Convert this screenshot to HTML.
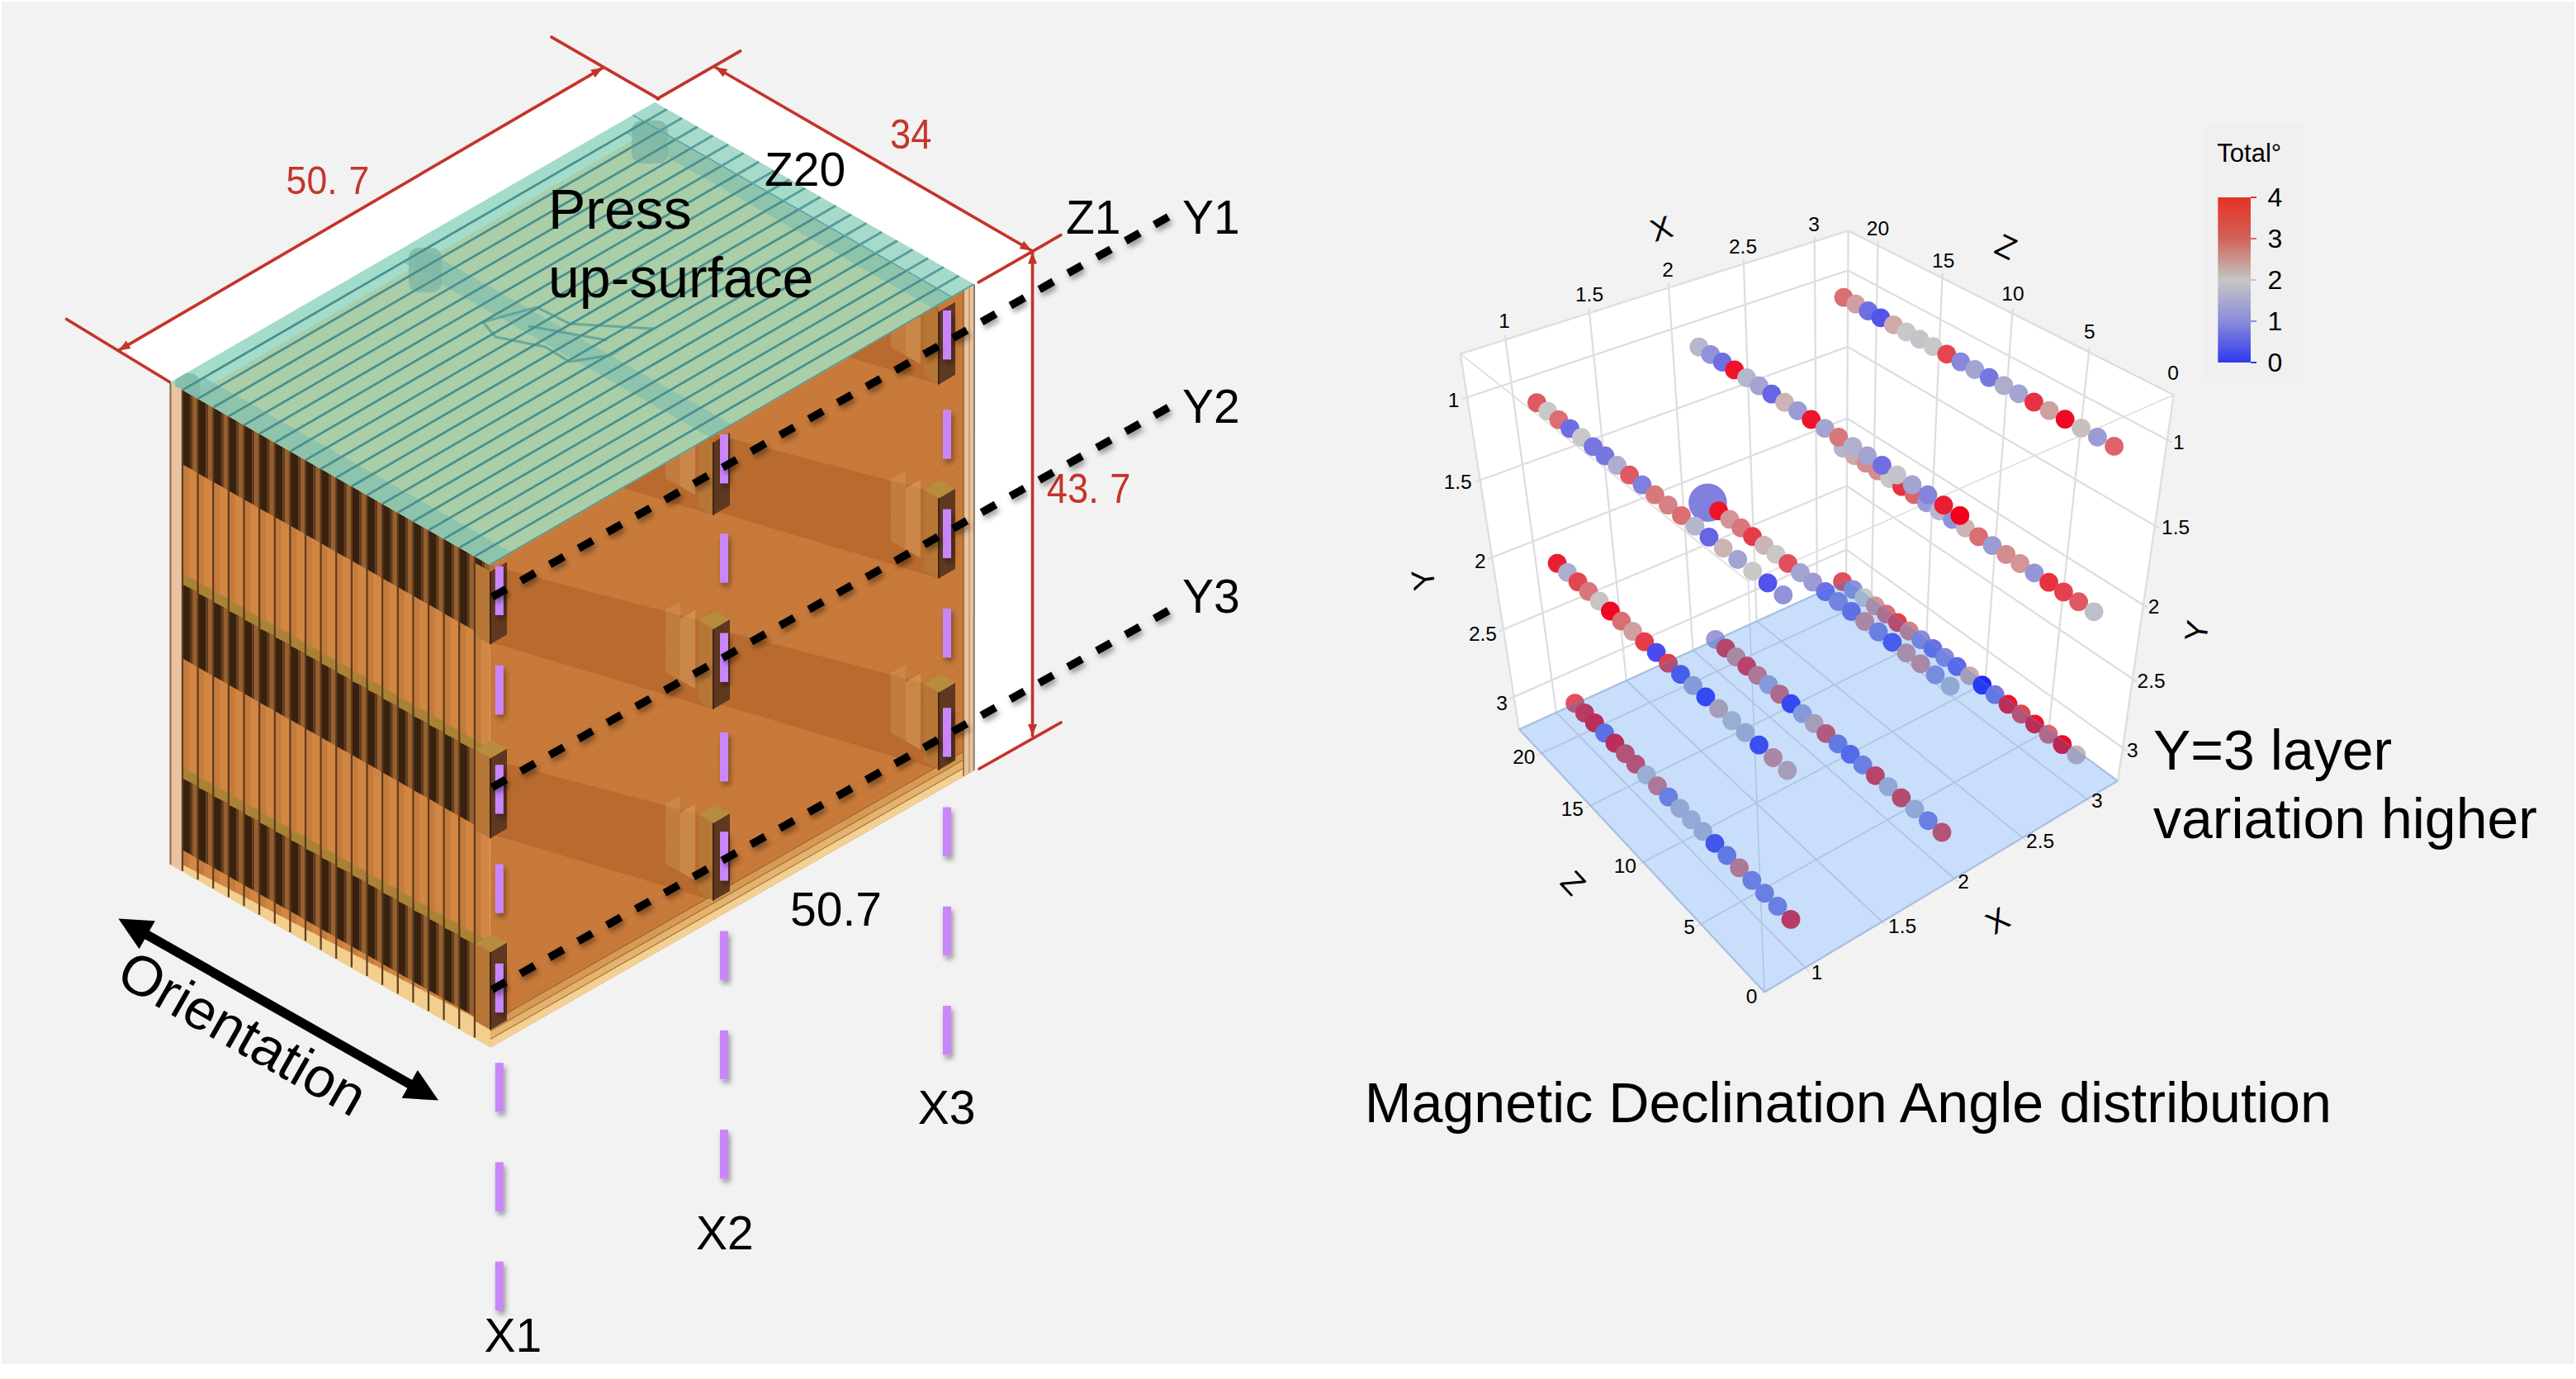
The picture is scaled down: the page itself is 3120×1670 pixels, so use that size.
<!DOCTYPE html>
<html><head><meta charset="utf-8"><title>Magnetic Declination Angle distribution</title>
<style>
html,body{margin:0;padding:0;background:#fff;}
body{width:3120px;height:1670px;overflow:hidden;}
svg{display:block;font-family:'Liberation Sans', Arial, Helvetica, sans-serif;}
</style></head><body>
<svg width="3120" height="1670" viewBox="0 0 3120 1670">
<rect x="0" y="0" width="3120" height="1670" fill="#ffffff"/>
<rect x="2" y="2" width="3116" height="1650" fill="#f2f2f2"/>
<polygon points="143.6,424.4 730.1,82.1 796.8,119.2 793.3,124.0 205.5,463.5" fill="#ffffff" />
<polygon points="866.4,81.5 1249.5,303.5 1250.5,304.0 1250.5,893.0 1179.7,933.0 1180.0,344.5 793.3,124.0 796.8,119.2" fill="#ffffff" />
<g>
<polygon points="205.5,463.5 593.5,684.5 594.0,1268.4 205.8,1047.0" fill="#f2cf8e" />
<polygon points="205.5,463.5 221.0,472.3 221.0,1054.7 205.5,1047.0" fill="#e9c3a2" />
<line x1="206.5" y1="463.5" x2="206.5" y2="1047.0" stroke="#8a6a55" stroke-width="2.00" />
<polygon points="221.0,472.3 239.6,482.9 239.6,1056.7 221.0,1047.0" fill="#d28644" />
<polygon points="221.0,472.3 228.8,476.8 228.8,1051.1 221.0,1047.0" fill="#c57b3c" />
<polygon points="221.0,472.3 230.7,477.8 230.7,567.8 221.0,562.3" fill="#38210f" />
<polygon points="230.7,477.8 233.7,479.5 233.7,569.5 230.7,567.8" fill="#5e3c1e" />
<polygon points="233.7,479.5 239.6,482.9 239.6,572.9 233.7,569.5" fill="#96602e" />
<polygon points="221.0,698.3 230.7,703.8 230.7,802.8 221.0,797.3" fill="#38210f" />
<polygon points="230.7,703.8 233.7,705.5 233.7,804.5 230.7,802.8" fill="#5e3c1e" />
<polygon points="233.7,705.5 239.6,708.9 239.6,807.9 233.7,804.5" fill="#96602e" />
<polygon points="222.0,695.3 239.6,703.9 239.6,716.9 222.0,708.3" fill="#a98236" />
<polygon points="221.0,933.3 230.7,938.8 230.7,1034.8 221.0,1029.3" fill="#38210f" />
<polygon points="230.7,938.8 233.7,940.5 233.7,1036.5 230.7,1034.8" fill="#5e3c1e" />
<polygon points="233.7,940.5 239.6,943.9 239.6,1039.9 233.7,1036.5" fill="#96602e" />
<polygon points="222.0,930.3 239.6,938.9 239.6,951.9 222.0,943.3" fill="#a98236" />
<line x1="221.0" y1="472.3" x2="221.0" y2="1054.7" stroke="#5e3c1e" stroke-width="2.20" />
<polygon points="239.6,482.9 258.2,493.5 258.2,1066.5 239.6,1056.7" fill="#d28644" />
<polygon points="239.6,482.9 247.4,487.4 247.4,1060.8 239.6,1056.7" fill="#c57b3c" />
<polygon points="239.6,482.9 249.3,488.5 249.3,578.5 239.6,572.9" fill="#38210f" />
<polygon points="249.3,488.5 252.3,490.2 252.3,580.2 249.3,578.5" fill="#5e3c1e" />
<polygon points="252.3,490.2 258.2,493.5 258.2,583.5 252.3,580.2" fill="#96602e" />
<polygon points="239.6,708.9 249.3,714.5 249.3,813.5 239.6,807.9" fill="#38210f" />
<polygon points="249.3,714.5 252.3,716.2 252.3,815.2 249.3,813.5" fill="#5e3c1e" />
<polygon points="252.3,716.2 258.2,719.5 258.2,818.5 252.3,815.2" fill="#96602e" />
<polygon points="240.6,705.9 258.2,714.5 258.2,727.5 240.6,718.9" fill="#a98236" />
<polygon points="239.6,943.9 249.3,949.5 249.3,1045.5 239.6,1039.9" fill="#38210f" />
<polygon points="249.3,949.5 252.3,951.2 252.3,1047.2 249.3,1045.5" fill="#5e3c1e" />
<polygon points="252.3,951.2 258.2,954.5 258.2,1050.5 252.3,1047.2" fill="#96602e" />
<polygon points="240.6,940.9 258.2,949.5 258.2,962.5 240.6,953.9" fill="#a98236" />
<line x1="239.6" y1="482.9" x2="239.6" y2="1065.3" stroke="#5e3c1e" stroke-width="2.20" />
<polygon points="258.2,493.5 276.9,504.2 276.9,1076.2 258.2,1066.5" fill="#d28644" />
<polygon points="258.2,493.5 266.1,498.0 266.1,1070.6 258.2,1066.5" fill="#c57b3c" />
<polygon points="258.2,493.5 267.9,499.1 267.9,589.1 258.2,583.5" fill="#38210f" />
<polygon points="267.9,499.1 270.9,500.8 270.9,590.8 267.9,589.1" fill="#5e3c1e" />
<polygon points="270.9,500.8 276.9,504.2 276.9,594.2 270.9,590.8" fill="#96602e" />
<polygon points="258.2,719.5 267.9,725.1 267.9,824.1 258.2,818.5" fill="#38210f" />
<polygon points="267.9,725.1 270.9,726.8 270.9,825.8 267.9,824.1" fill="#5e3c1e" />
<polygon points="270.9,726.8 276.9,730.2 276.9,829.2 270.9,825.8" fill="#96602e" />
<polygon points="259.2,716.5 276.9,725.2 276.9,738.2 259.2,729.5" fill="#a98236" />
<polygon points="258.2,954.5 267.9,960.1 267.9,1056.1 258.2,1050.5" fill="#38210f" />
<polygon points="267.9,960.1 270.9,961.8 270.9,1057.8 267.9,1056.1" fill="#5e3c1e" />
<polygon points="270.9,961.8 276.9,965.2 276.9,1061.2 270.9,1057.8" fill="#96602e" />
<polygon points="259.2,951.5 276.9,960.2 276.9,973.2 259.2,964.5" fill="#a98236" />
<line x1="258.2" y1="493.5" x2="258.2" y2="1075.9" stroke="#5e3c1e" stroke-width="2.20" />
<polygon points="276.9,504.2 295.5,514.8 295.5,1086.0 276.9,1076.2" fill="#d28644" />
<polygon points="276.9,504.2 284.7,508.6 284.7,1080.3 276.9,1076.2" fill="#c57b3c" />
<polygon points="276.9,504.2 286.6,509.7 286.6,599.7 276.9,594.2" fill="#38210f" />
<polygon points="286.6,509.7 289.5,511.4 289.5,601.4 286.6,599.7" fill="#5e3c1e" />
<polygon points="289.5,511.4 295.5,514.8 295.5,604.8 289.5,601.4" fill="#96602e" />
<polygon points="276.9,730.2 286.6,735.7 286.6,834.7 276.9,829.2" fill="#38210f" />
<polygon points="286.6,735.7 289.5,737.4 289.5,836.4 286.6,834.7" fill="#5e3c1e" />
<polygon points="289.5,737.4 295.5,740.8 295.5,839.8 289.5,836.4" fill="#96602e" />
<polygon points="277.9,727.2 295.5,735.8 295.5,748.8 277.9,740.2" fill="#a98236" />
<polygon points="276.9,965.2 286.6,970.7 286.6,1066.7 276.9,1061.2" fill="#38210f" />
<polygon points="286.6,970.7 289.5,972.4 289.5,1068.4 286.6,1066.7" fill="#5e3c1e" />
<polygon points="289.5,972.4 295.5,975.8 295.5,1071.8 289.5,1068.4" fill="#96602e" />
<polygon points="277.9,962.2 295.5,970.8 295.5,983.8 277.9,975.2" fill="#a98236" />
<line x1="276.9" y1="504.2" x2="276.9" y2="1086.5" stroke="#5e3c1e" stroke-width="2.20" />
<polygon points="295.5,514.8 314.1,525.4 314.1,1095.8 295.5,1086.0" fill="#d28644" />
<polygon points="295.5,514.8 303.3,519.2 303.3,1090.1 295.5,1086.0" fill="#c57b3c" />
<polygon points="295.5,514.8 305.2,520.3 305.2,610.3 295.5,604.8" fill="#38210f" />
<polygon points="305.2,520.3 308.2,522.0 308.2,612.0 305.2,610.3" fill="#5e3c1e" />
<polygon points="308.2,522.0 314.1,525.4 314.1,615.4 308.2,612.0" fill="#96602e" />
<polygon points="295.5,740.8 305.2,746.3 305.2,845.3 295.5,839.8" fill="#38210f" />
<polygon points="305.2,746.3 308.2,748.0 308.2,847.0 305.2,845.3" fill="#5e3c1e" />
<polygon points="308.2,748.0 314.1,751.4 314.1,850.4 308.2,847.0" fill="#96602e" />
<polygon points="296.5,737.8 314.1,746.4 314.1,759.4 296.5,750.8" fill="#a98236" />
<polygon points="295.5,975.8 305.2,981.3 305.2,1077.3 295.5,1071.8" fill="#38210f" />
<polygon points="305.2,981.3 308.2,983.0 308.2,1079.0 305.2,1077.3" fill="#5e3c1e" />
<polygon points="308.2,983.0 314.1,986.4 314.1,1082.4 308.2,1079.0" fill="#96602e" />
<polygon points="296.5,972.8 314.1,981.4 314.1,994.4 296.5,985.8" fill="#a98236" />
<line x1="295.5" y1="514.8" x2="295.5" y2="1097.2" stroke="#5e3c1e" stroke-width="2.20" />
<polygon points="314.1,525.4 332.8,536.0 332.8,1105.5 314.1,1095.8" fill="#d28644" />
<polygon points="314.1,525.4 321.9,529.8 321.9,1099.9 314.1,1095.8" fill="#c57b3c" />
<polygon points="314.1,525.4 323.8,530.9 323.8,620.9 314.1,615.4" fill="#38210f" />
<polygon points="323.8,530.9 326.8,532.6 326.8,622.6 323.8,620.9" fill="#5e3c1e" />
<polygon points="326.8,532.6 332.8,536.0 332.8,626.0 326.8,622.6" fill="#96602e" />
<polygon points="314.1,751.4 323.8,756.9 323.8,855.9 314.1,850.4" fill="#38210f" />
<polygon points="323.8,756.9 326.8,758.6 326.8,857.6 323.8,855.9" fill="#5e3c1e" />
<polygon points="326.8,758.6 332.8,762.0 332.8,861.0 326.8,857.6" fill="#96602e" />
<polygon points="315.1,748.4 332.8,757.0 332.8,770.0 315.1,761.4" fill="#a98236" />
<polygon points="314.1,986.4 323.8,991.9 323.8,1087.9 314.1,1082.4" fill="#38210f" />
<polygon points="323.8,991.9 326.8,993.6 326.8,1089.6 323.8,1087.9" fill="#5e3c1e" />
<polygon points="326.8,993.6 332.8,997.0 332.8,1093.0 326.8,1089.6" fill="#96602e" />
<polygon points="315.1,983.4 332.8,992.0 332.8,1005.0 315.1,996.4" fill="#a98236" />
<line x1="314.1" y1="525.4" x2="314.1" y2="1107.8" stroke="#5e3c1e" stroke-width="2.20" />
<polygon points="332.8,536.0 351.4,546.6 351.4,1115.3 332.8,1105.5" fill="#d28644" />
<polygon points="332.8,536.0 340.6,540.4 340.6,1109.6 332.8,1105.5" fill="#c57b3c" />
<polygon points="332.8,536.0 342.4,541.5 342.4,631.5 332.8,626.0" fill="#38210f" />
<polygon points="342.4,541.5 345.4,543.2 345.4,633.2 342.4,631.5" fill="#5e3c1e" />
<polygon points="345.4,543.2 351.4,546.6 351.4,636.6 345.4,633.2" fill="#96602e" />
<polygon points="332.8,762.0 342.4,767.5 342.4,866.5 332.8,861.0" fill="#38210f" />
<polygon points="342.4,767.5 345.4,769.2 345.4,868.2 342.4,866.5" fill="#5e3c1e" />
<polygon points="345.4,769.2 351.4,772.6 351.4,871.6 345.4,868.2" fill="#96602e" />
<polygon points="333.8,759.0 351.4,767.6 351.4,780.6 333.8,772.0" fill="#a98236" />
<polygon points="332.8,997.0 342.4,1002.5 342.4,1098.5 332.8,1093.0" fill="#38210f" />
<polygon points="342.4,1002.5 345.4,1004.2 345.4,1100.2 342.4,1098.5" fill="#5e3c1e" />
<polygon points="345.4,1004.2 351.4,1007.6 351.4,1103.6 345.4,1100.2" fill="#96602e" />
<polygon points="333.8,994.0 351.4,1002.6 351.4,1015.6 333.8,1007.0" fill="#a98236" />
<line x1="332.8" y1="536.0" x2="332.8" y2="1118.4" stroke="#5e3c1e" stroke-width="2.20" />
<polygon points="351.4,546.6 370.0,557.2 370.0,1125.0 351.4,1115.3" fill="#d28644" />
<polygon points="351.4,546.6 359.2,551.0 359.2,1119.4 351.4,1115.3" fill="#c57b3c" />
<polygon points="351.4,546.6 361.1,552.1 361.1,642.1 351.4,636.6" fill="#38210f" />
<polygon points="361.1,552.1 364.0,553.8 364.0,643.8 361.1,642.1" fill="#5e3c1e" />
<polygon points="364.0,553.8 370.0,557.2 370.0,647.2 364.0,643.8" fill="#96602e" />
<polygon points="351.4,772.6 361.1,778.1 361.1,877.1 351.4,871.6" fill="#38210f" />
<polygon points="361.1,778.1 364.0,779.8 364.0,878.8 361.1,877.1" fill="#5e3c1e" />
<polygon points="364.0,779.8 370.0,783.2 370.0,882.2 364.0,878.8" fill="#96602e" />
<polygon points="352.4,769.6 370.0,778.2 370.0,791.2 352.4,782.6" fill="#a98236" />
<polygon points="351.4,1007.6 361.1,1013.1 361.1,1109.1 351.4,1103.6" fill="#38210f" />
<polygon points="361.1,1013.1 364.0,1014.8 364.0,1110.8 361.1,1109.1" fill="#5e3c1e" />
<polygon points="364.0,1014.8 370.0,1018.2 370.0,1114.2 364.0,1110.8" fill="#96602e" />
<polygon points="352.4,1004.6 370.0,1013.2 370.0,1026.2 352.4,1017.6" fill="#a98236" />
<line x1="351.4" y1="546.6" x2="351.4" y2="1129.0" stroke="#5e3c1e" stroke-width="2.20" />
<polygon points="370.0,557.2 388.6,567.8 388.6,1134.8 370.0,1125.0" fill="#d28644" />
<polygon points="370.0,557.2 377.8,561.7 377.8,1129.1 370.0,1125.0" fill="#c57b3c" />
<polygon points="370.0,557.2 379.7,562.7 379.7,652.7 370.0,647.2" fill="#38210f" />
<polygon points="379.7,562.7 382.7,564.4 382.7,654.4 379.7,652.7" fill="#5e3c1e" />
<polygon points="382.7,564.4 388.6,567.8 388.6,657.8 382.7,654.4" fill="#96602e" />
<polygon points="370.0,783.2 379.7,788.7 379.7,887.7 370.0,882.2" fill="#38210f" />
<polygon points="379.7,788.7 382.7,790.4 382.7,889.4 379.7,887.7" fill="#5e3c1e" />
<polygon points="382.7,790.4 388.6,793.8 388.6,892.8 382.7,889.4" fill="#96602e" />
<polygon points="371.0,780.2 388.6,788.8 388.6,801.8 371.0,793.2" fill="#a98236" />
<polygon points="370.0,1018.2 379.7,1023.7 379.7,1119.7 370.0,1114.2" fill="#38210f" />
<polygon points="379.7,1023.7 382.7,1025.4 382.7,1121.4 379.7,1119.7" fill="#5e3c1e" />
<polygon points="382.7,1025.4 388.6,1028.8 388.6,1124.8 382.7,1121.4" fill="#96602e" />
<polygon points="371.0,1015.2 388.6,1023.8 388.6,1036.8 371.0,1028.2" fill="#a98236" />
<line x1="370.0" y1="557.2" x2="370.0" y2="1139.6" stroke="#5e3c1e" stroke-width="2.20" />
<polygon points="388.6,567.8 407.2,578.4 407.2,1144.6 388.6,1134.8" fill="#d28644" />
<polygon points="388.6,567.8 396.4,572.3 396.4,1138.9 388.6,1134.8" fill="#c57b3c" />
<polygon points="388.6,567.8 398.3,573.3 398.3,663.3 388.6,657.8" fill="#38210f" />
<polygon points="398.3,573.3 401.3,575.0 401.3,665.0 398.3,663.3" fill="#5e3c1e" />
<polygon points="401.3,575.0 407.2,578.4 407.2,668.4 401.3,665.0" fill="#96602e" />
<polygon points="388.6,793.8 398.3,799.3 398.3,898.3 388.6,892.8" fill="#38210f" />
<polygon points="398.3,799.3 401.3,801.0 401.3,900.0 398.3,898.3" fill="#5e3c1e" />
<polygon points="401.3,801.0 407.2,804.4 407.2,903.4 401.3,900.0" fill="#96602e" />
<polygon points="389.6,790.8 407.2,799.4 407.2,812.4 389.6,803.8" fill="#a98236" />
<polygon points="388.6,1028.8 398.3,1034.3 398.3,1130.3 388.6,1124.8" fill="#38210f" />
<polygon points="398.3,1034.3 401.3,1036.0 401.3,1132.0 398.3,1130.3" fill="#5e3c1e" />
<polygon points="401.3,1036.0 407.2,1039.4 407.2,1135.4 401.3,1132.0" fill="#96602e" />
<polygon points="389.6,1025.8 407.2,1034.4 407.2,1047.4 389.6,1038.8" fill="#a98236" />
<line x1="388.6" y1="567.8" x2="388.6" y2="1150.3" stroke="#5e3c1e" stroke-width="2.20" />
<polygon points="407.2,578.4 425.9,589.0 425.9,1154.3 407.2,1144.6" fill="#d28644" />
<polygon points="407.2,578.4 415.1,582.9 415.1,1148.7 407.2,1144.6" fill="#c57b3c" />
<polygon points="407.2,578.4 416.9,583.9 416.9,673.9 407.2,668.4" fill="#38210f" />
<polygon points="416.9,583.9 419.9,585.6 419.9,675.6 416.9,673.9" fill="#5e3c1e" />
<polygon points="419.9,585.6 425.9,589.0 425.9,679.0 419.9,675.6" fill="#96602e" />
<polygon points="407.2,804.4 416.9,809.9 416.9,908.9 407.2,903.4" fill="#38210f" />
<polygon points="416.9,809.9 419.9,811.6 419.9,910.6 416.9,908.9" fill="#5e3c1e" />
<polygon points="419.9,811.6 425.9,815.0 425.9,914.0 419.9,910.6" fill="#96602e" />
<polygon points="408.2,801.4 425.9,810.0 425.9,823.0 408.2,814.4" fill="#a98236" />
<polygon points="407.2,1039.4 416.9,1044.9 416.9,1140.9 407.2,1135.4" fill="#38210f" />
<polygon points="416.9,1044.9 419.9,1046.6 419.9,1142.6 416.9,1140.9" fill="#5e3c1e" />
<polygon points="419.9,1046.6 425.9,1050.0 425.9,1146.0 419.9,1142.6" fill="#96602e" />
<polygon points="408.2,1036.4 425.9,1045.0 425.9,1058.0 408.2,1049.4" fill="#a98236" />
<line x1="407.2" y1="578.4" x2="407.2" y2="1160.9" stroke="#5e3c1e" stroke-width="2.20" />
<polygon points="425.9,589.0 444.5,599.6 444.5,1164.1 425.9,1154.3" fill="#d28644" />
<polygon points="425.9,589.0 433.7,593.5 433.7,1158.4 425.9,1154.3" fill="#c57b3c" />
<polygon points="425.9,589.0 435.6,594.5 435.6,684.5 425.9,679.0" fill="#38210f" />
<polygon points="435.6,594.5 438.5,596.2 438.5,686.2 435.6,684.5" fill="#5e3c1e" />
<polygon points="438.5,596.2 444.5,599.6 444.5,689.6 438.5,686.2" fill="#96602e" />
<polygon points="425.9,815.0 435.6,820.5 435.6,919.5 425.9,914.0" fill="#38210f" />
<polygon points="435.6,820.5 438.5,822.2 438.5,921.2 435.6,919.5" fill="#5e3c1e" />
<polygon points="438.5,822.2 444.5,825.6 444.5,924.6 438.5,921.2" fill="#96602e" />
<polygon points="426.9,812.0 444.5,820.6 444.5,833.6 426.9,825.0" fill="#a98236" />
<polygon points="425.9,1050.0 435.6,1055.5 435.6,1151.5 425.9,1146.0" fill="#38210f" />
<polygon points="435.6,1055.5 438.5,1057.2 438.5,1153.2 435.6,1151.5" fill="#5e3c1e" />
<polygon points="438.5,1057.2 444.5,1060.6 444.5,1156.6 438.5,1153.2" fill="#96602e" />
<polygon points="426.9,1047.0 444.5,1055.6 444.5,1068.6 426.9,1060.0" fill="#a98236" />
<line x1="425.9" y1="589.0" x2="425.9" y2="1171.5" stroke="#5e3c1e" stroke-width="2.20" />
<polygon points="444.5,599.6 463.1,610.2 463.1,1173.8 444.5,1164.1" fill="#d28644" />
<polygon points="444.5,599.6 452.3,604.1 452.3,1168.2 444.5,1164.1" fill="#c57b3c" />
<polygon points="444.5,599.6 454.2,605.1 454.2,695.1 444.5,689.6" fill="#38210f" />
<polygon points="454.2,605.1 457.2,606.8 457.2,696.8 454.2,695.1" fill="#5e3c1e" />
<polygon points="457.2,606.8 463.1,610.2 463.1,700.2 457.2,696.8" fill="#96602e" />
<polygon points="444.5,825.6 454.2,831.1 454.2,930.1 444.5,924.6" fill="#38210f" />
<polygon points="454.2,831.1 457.2,832.8 457.2,931.8 454.2,930.1" fill="#5e3c1e" />
<polygon points="457.2,832.8 463.1,836.2 463.1,935.2 457.2,931.8" fill="#96602e" />
<polygon points="445.5,822.6 463.1,831.2 463.1,844.2 445.5,835.6" fill="#a98236" />
<polygon points="444.5,1060.6 454.2,1066.1 454.2,1162.1 444.5,1156.6" fill="#38210f" />
<polygon points="454.2,1066.1 457.2,1067.8 457.2,1163.8 454.2,1162.1" fill="#5e3c1e" />
<polygon points="457.2,1067.8 463.1,1071.2 463.1,1167.2 457.2,1163.8" fill="#96602e" />
<polygon points="445.5,1057.6 463.1,1066.2 463.1,1079.2 445.5,1070.6" fill="#a98236" />
<line x1="444.5" y1="599.6" x2="444.5" y2="1182.1" stroke="#5e3c1e" stroke-width="2.20" />
<polygon points="463.1,610.2 481.8,620.8 481.8,1183.6 463.1,1173.8" fill="#d28644" />
<polygon points="463.1,610.2 470.9,614.7 470.9,1177.9 463.1,1173.8" fill="#c57b3c" />
<polygon points="463.1,610.2 472.8,615.8 472.8,705.8 463.1,700.2" fill="#38210f" />
<polygon points="472.8,615.8 475.8,617.5 475.8,707.5 472.8,705.8" fill="#5e3c1e" />
<polygon points="475.8,617.5 481.8,620.8 481.8,710.8 475.8,707.5" fill="#96602e" />
<polygon points="463.1,836.2 472.8,841.8 472.8,940.8 463.1,935.2" fill="#38210f" />
<polygon points="472.8,841.8 475.8,843.5 475.8,942.5 472.8,940.8" fill="#5e3c1e" />
<polygon points="475.8,843.5 481.8,846.8 481.8,945.8 475.8,942.5" fill="#96602e" />
<polygon points="464.1,833.2 481.8,841.8 481.8,854.8 464.1,846.2" fill="#a98236" />
<polygon points="463.1,1071.2 472.8,1076.8 472.8,1172.8 463.1,1167.2" fill="#38210f" />
<polygon points="472.8,1076.8 475.8,1078.5 475.8,1174.5 472.8,1172.8" fill="#5e3c1e" />
<polygon points="475.8,1078.5 481.8,1081.8 481.8,1177.8 475.8,1174.5" fill="#96602e" />
<polygon points="464.1,1068.2 481.8,1076.8 481.8,1089.8 464.1,1081.2" fill="#a98236" />
<line x1="463.1" y1="610.2" x2="463.1" y2="1192.8" stroke="#5e3c1e" stroke-width="2.20" />
<polygon points="481.8,620.8 500.4,631.5 500.4,1193.3 481.8,1183.6" fill="#d28644" />
<polygon points="481.8,620.8 489.6,625.3 489.6,1187.7 481.8,1183.6" fill="#c57b3c" />
<polygon points="481.8,620.8 491.4,626.4 491.4,716.4 481.8,710.8" fill="#38210f" />
<polygon points="491.4,626.4 494.4,628.1 494.4,718.1 491.4,716.4" fill="#5e3c1e" />
<polygon points="494.4,628.1 500.4,631.5 500.4,721.5 494.4,718.1" fill="#96602e" />
<polygon points="481.8,846.8 491.4,852.4 491.4,951.4 481.8,945.8" fill="#38210f" />
<polygon points="491.4,852.4 494.4,854.1 494.4,953.1 491.4,951.4" fill="#5e3c1e" />
<polygon points="494.4,854.1 500.4,857.5 500.4,956.5 494.4,953.1" fill="#96602e" />
<polygon points="482.8,843.8 500.4,852.5 500.4,865.5 482.8,856.8" fill="#a98236" />
<polygon points="481.8,1081.8 491.4,1087.4 491.4,1183.4 481.8,1177.8" fill="#38210f" />
<polygon points="491.4,1087.4 494.4,1089.1 494.4,1185.1 491.4,1183.4" fill="#5e3c1e" />
<polygon points="494.4,1089.1 500.4,1092.5 500.4,1188.5 494.4,1185.1" fill="#96602e" />
<polygon points="482.8,1078.8 500.4,1087.5 500.4,1100.5 482.8,1091.8" fill="#a98236" />
<line x1="481.8" y1="620.8" x2="481.8" y2="1203.4" stroke="#5e3c1e" stroke-width="2.20" />
<polygon points="500.4,631.5 519.0,642.1 519.0,1203.1 500.4,1193.3" fill="#d28644" />
<polygon points="500.4,631.5 508.2,635.9 508.2,1197.4 500.4,1193.3" fill="#c57b3c" />
<polygon points="500.4,631.5 510.1,637.0 510.1,727.0 500.4,721.5" fill="#38210f" />
<polygon points="510.1,637.0 513.0,638.7 513.0,728.7 510.1,727.0" fill="#5e3c1e" />
<polygon points="513.0,638.7 519.0,642.1 519.0,732.1 513.0,728.7" fill="#96602e" />
<polygon points="500.4,857.5 510.1,863.0 510.1,962.0 500.4,956.5" fill="#38210f" />
<polygon points="510.1,863.0 513.0,864.7 513.0,963.7 510.1,962.0" fill="#5e3c1e" />
<polygon points="513.0,864.7 519.0,868.1 519.0,967.1 513.0,963.7" fill="#96602e" />
<polygon points="501.4,854.5 519.0,863.1 519.0,876.1 501.4,867.5" fill="#a98236" />
<polygon points="500.4,1092.5 510.1,1098.0 510.1,1194.0 500.4,1188.5" fill="#38210f" />
<polygon points="510.1,1098.0 513.0,1099.7 513.0,1195.7 510.1,1194.0" fill="#5e3c1e" />
<polygon points="513.0,1099.7 519.0,1103.1 519.0,1199.1 513.0,1195.7" fill="#96602e" />
<polygon points="501.4,1089.5 519.0,1098.1 519.0,1111.1 501.4,1102.5" fill="#a98236" />
<line x1="500.4" y1="631.5" x2="500.4" y2="1214.0" stroke="#5e3c1e" stroke-width="2.20" />
<polygon points="519.0,642.1 537.6,652.7 537.6,1212.9 519.0,1203.1" fill="#d28644" />
<polygon points="519.0,642.1 526.8,646.5 526.8,1207.2 519.0,1203.1" fill="#c57b3c" />
<polygon points="519.0,642.1 528.7,647.6 528.7,737.6 519.0,732.1" fill="#38210f" />
<polygon points="528.7,647.6 531.7,649.3 531.7,739.3 528.7,737.6" fill="#5e3c1e" />
<polygon points="531.7,649.3 537.6,652.7 537.6,742.7 531.7,739.3" fill="#96602e" />
<polygon points="519.0,868.1 528.7,873.6 528.7,972.6 519.0,967.1" fill="#38210f" />
<polygon points="528.7,873.6 531.7,875.3 531.7,974.3 528.7,972.6" fill="#5e3c1e" />
<polygon points="531.7,875.3 537.6,878.7 537.6,977.7 531.7,974.3" fill="#96602e" />
<polygon points="520.0,865.1 537.6,873.7 537.6,886.7 520.0,878.1" fill="#a98236" />
<polygon points="519.0,1103.1 528.7,1108.6 528.7,1204.6 519.0,1199.1" fill="#38210f" />
<polygon points="528.7,1108.6 531.7,1110.3 531.7,1206.3 528.7,1204.6" fill="#5e3c1e" />
<polygon points="531.7,1110.3 537.6,1113.7 537.6,1209.7 531.7,1206.3" fill="#96602e" />
<polygon points="520.0,1100.1 537.6,1108.7 537.6,1121.7 520.0,1113.1" fill="#a98236" />
<line x1="519.0" y1="642.1" x2="519.0" y2="1224.6" stroke="#5e3c1e" stroke-width="2.20" />
<polygon points="537.6,652.7 556.2,663.3 556.2,1222.6 537.6,1212.9" fill="#d28644" />
<polygon points="537.6,652.7 545.4,657.1 545.4,1217.0 537.6,1212.9" fill="#c57b3c" />
<polygon points="537.6,652.7 547.3,658.2 547.3,748.2 537.6,742.7" fill="#38210f" />
<polygon points="547.3,658.2 550.3,659.9 550.3,749.9 547.3,748.2" fill="#5e3c1e" />
<polygon points="550.3,659.9 556.2,663.3 556.2,753.3 550.3,749.9" fill="#96602e" />
<polygon points="537.6,878.7 547.3,884.2 547.3,983.2 537.6,977.7" fill="#38210f" />
<polygon points="547.3,884.2 550.3,885.9 550.3,984.9 547.3,983.2" fill="#5e3c1e" />
<polygon points="550.3,885.9 556.2,889.3 556.2,988.3 550.3,984.9" fill="#96602e" />
<polygon points="538.6,875.7 556.2,884.3 556.2,897.3 538.6,888.7" fill="#a98236" />
<polygon points="537.6,1113.7 547.3,1119.2 547.3,1215.2 537.6,1209.7" fill="#38210f" />
<polygon points="547.3,1119.2 550.3,1120.9 550.3,1216.9 547.3,1215.2" fill="#5e3c1e" />
<polygon points="550.3,1120.9 556.2,1124.3 556.2,1220.3 550.3,1216.9" fill="#96602e" />
<polygon points="538.6,1110.7 556.2,1119.3 556.2,1132.3 538.6,1123.7" fill="#a98236" />
<line x1="537.6" y1="652.7" x2="537.6" y2="1235.2" stroke="#5e3c1e" stroke-width="2.20" />
<polygon points="556.2,663.3 574.9,673.9 574.9,1232.4 556.2,1222.6" fill="#d28644" />
<polygon points="556.2,663.3 564.1,667.7 564.1,1226.7 556.2,1222.6" fill="#c57b3c" />
<polygon points="556.2,663.3 565.9,668.8 565.9,758.8 556.2,753.3" fill="#38210f" />
<polygon points="565.9,668.8 568.9,670.5 568.9,760.5 565.9,758.8" fill="#5e3c1e" />
<polygon points="568.9,670.5 574.9,673.9 574.9,763.9 568.9,760.5" fill="#96602e" />
<polygon points="556.2,889.3 565.9,894.8 565.9,993.8 556.2,988.3" fill="#38210f" />
<polygon points="565.9,894.8 568.9,896.5 568.9,995.5 565.9,993.8" fill="#5e3c1e" />
<polygon points="568.9,896.5 574.9,899.9 574.9,998.9 568.9,995.5" fill="#96602e" />
<polygon points="557.2,886.3 574.9,894.9 574.9,907.9 557.2,899.3" fill="#a98236" />
<polygon points="556.2,1124.3 565.9,1129.8 565.9,1225.8 556.2,1220.3" fill="#38210f" />
<polygon points="565.9,1129.8 568.9,1131.5 568.9,1227.5 565.9,1225.8" fill="#5e3c1e" />
<polygon points="568.9,1131.5 574.9,1134.9 574.9,1230.9 568.9,1227.5" fill="#96602e" />
<polygon points="557.2,1121.3 574.9,1129.9 574.9,1142.9 557.2,1134.3" fill="#a98236" />
<line x1="556.2" y1="663.3" x2="556.2" y2="1245.9" stroke="#5e3c1e" stroke-width="2.20" />
<polygon points="574.9,673.9 593.5,684.5 593.5,1242.1 574.9,1232.4" fill="#d28644" />
<polygon points="574.9,673.9 582.7,678.3 582.7,1236.5 574.9,1232.4" fill="#c57b3c" />
<polygon points="574.9,673.9 584.6,679.4 584.6,769.4 574.9,763.9" fill="#38210f" />
<polygon points="584.6,679.4 587.5,681.1 587.5,771.1 584.6,769.4" fill="#5e3c1e" />
<polygon points="587.5,681.1 593.5,684.5 593.5,774.5 587.5,771.1" fill="#96602e" />
<polygon points="574.9,899.9 584.6,905.4 584.6,1004.4 574.9,998.9" fill="#38210f" />
<polygon points="584.6,905.4 587.5,907.1 587.5,1006.1 584.6,1004.4" fill="#5e3c1e" />
<polygon points="587.5,907.1 593.5,910.5 593.5,1009.5 587.5,1006.1" fill="#96602e" />
<polygon points="575.9,896.9 593.5,905.5 593.5,918.5 575.9,909.9" fill="#a98236" />
<polygon points="574.9,1134.9 584.6,1140.4 584.6,1236.4 574.9,1230.9" fill="#38210f" />
<polygon points="584.6,1140.4 587.5,1142.1 587.5,1238.1 584.6,1236.4" fill="#5e3c1e" />
<polygon points="587.5,1142.1 593.5,1145.5 593.5,1241.5 587.5,1238.1" fill="#96602e" />
<polygon points="575.9,1131.9 593.5,1140.5 593.5,1153.5 575.9,1144.9" fill="#a98236" />
<line x1="574.9" y1="673.9" x2="574.9" y2="1256.5" stroke="#5e3c1e" stroke-width="2.20" />
</g>
<g>
<polygon points="593.5,684.5 1180.0,344.5 1179.7,933.0 594.0,1268.4" fill="#c87a3a" />
<clipPath id="frontclip"><polygon points="593.5,684.5 1180.0,344.5 1179.7,933.0 594.0,1268.4" fill="#000" /></clipPath>
<g clip-path="url(#frontclip)">
<polygon points="864.0,529.7 864.0,623.7 592.0,542.1 592.0,458.1" fill="#a25420" opacity="0.40"/>
<polygon points="864.0,755.7 864.0,858.7 592.0,777.1 592.0,684.1" fill="#a25420" opacity="0.40"/>
<polygon points="864.0,990.7 864.0,1090.7 592.0,1009.1 592.0,919.1" fill="#a25420" opacity="0.40"/>
<polygon points="1137.0,371.4 1137.0,465.4 865.0,383.8 865.0,299.8" fill="#a25420" opacity="0.40"/>
<polygon points="1137.0,597.4 1137.0,700.4 865.0,618.8 865.0,525.8" fill="#a25420" opacity="0.40"/>
<polygon points="1137.0,832.4 1137.0,932.4 865.0,850.8 865.0,760.8" fill="#a25420" opacity="0.40"/>
<line x1="593.5" y1="804.5" x2="1168.0" y2="471.5" stroke="#a86028" stroke-width="1.00" opacity="0.22"/>
<line x1="593.5" y1="817.5" x2="1168.0" y2="484.5" stroke="#a86028" stroke-width="1.00" opacity="0.22"/>
<line x1="593.5" y1="830.5" x2="1168.0" y2="497.5" stroke="#a86028" stroke-width="1.00" opacity="0.22"/>
<line x1="593.5" y1="843.5" x2="1168.0" y2="510.5" stroke="#a86028" stroke-width="1.00" opacity="0.22"/>
<line x1="593.5" y1="856.5" x2="1168.0" y2="523.5" stroke="#a86028" stroke-width="1.00" opacity="0.22"/>
<line x1="593.5" y1="869.5" x2="1168.0" y2="536.5" stroke="#a86028" stroke-width="1.00" opacity="0.22"/>
<line x1="593.5" y1="882.5" x2="1168.0" y2="549.5" stroke="#a86028" stroke-width="1.00" opacity="0.22"/>
<line x1="593.5" y1="895.5" x2="1168.0" y2="562.5" stroke="#a86028" stroke-width="1.00" opacity="0.22"/>
<line x1="593.5" y1="908.5" x2="1168.0" y2="575.5" stroke="#a86028" stroke-width="1.00" opacity="0.22"/>
<line x1="593.5" y1="921.5" x2="1168.0" y2="588.5" stroke="#a86028" stroke-width="1.00" opacity="0.22"/>
<line x1="593.5" y1="934.5" x2="1168.0" y2="601.5" stroke="#a86028" stroke-width="1.00" opacity="0.22"/>
<line x1="593.5" y1="947.5" x2="1168.0" y2="614.5" stroke="#a86028" stroke-width="1.00" opacity="0.22"/>
<line x1="593.5" y1="960.5" x2="1168.0" y2="627.5" stroke="#a86028" stroke-width="1.00" opacity="0.22"/>
<line x1="593.5" y1="973.5" x2="1168.0" y2="640.5" stroke="#a86028" stroke-width="1.00" opacity="0.22"/>
<line x1="593.5" y1="986.5" x2="1168.0" y2="653.5" stroke="#a86028" stroke-width="1.00" opacity="0.22"/>
<line x1="593.5" y1="999.5" x2="1168.0" y2="666.5" stroke="#a86028" stroke-width="1.00" opacity="0.22"/>
<line x1="593.5" y1="1012.5" x2="1168.0" y2="679.5" stroke="#a86028" stroke-width="1.00" opacity="0.22"/>
<line x1="593.5" y1="1025.5" x2="1168.0" y2="692.5" stroke="#a86028" stroke-width="1.00" opacity="0.22"/>
<line x1="593.5" y1="1038.5" x2="1168.0" y2="705.5" stroke="#a86028" stroke-width="1.00" opacity="0.22"/>
<line x1="593.5" y1="1051.5" x2="1168.0" y2="718.5" stroke="#a86028" stroke-width="1.00" opacity="0.22"/>
<line x1="593.5" y1="1064.5" x2="1168.0" y2="731.5" stroke="#a86028" stroke-width="1.00" opacity="0.22"/>
<line x1="593.5" y1="1077.5" x2="1168.0" y2="744.5" stroke="#a86028" stroke-width="1.00" opacity="0.22"/>
<line x1="593.5" y1="1090.5" x2="1168.0" y2="757.5" stroke="#a86028" stroke-width="1.00" opacity="0.22"/>
<line x1="593.5" y1="1103.5" x2="1168.0" y2="770.5" stroke="#a86028" stroke-width="1.00" opacity="0.22"/>
<line x1="593.5" y1="1116.5" x2="1168.0" y2="783.5" stroke="#a86028" stroke-width="1.00" opacity="0.22"/>
<line x1="593.5" y1="1129.5" x2="1168.0" y2="796.5" stroke="#a86028" stroke-width="1.00" opacity="0.22"/>
<line x1="593.5" y1="1142.5" x2="1168.0" y2="809.5" stroke="#a86028" stroke-width="1.00" opacity="0.22"/>
<line x1="593.5" y1="1155.5" x2="1168.0" y2="822.5" stroke="#a86028" stroke-width="1.00" opacity="0.22"/>
<line x1="593.5" y1="1168.5" x2="1168.0" y2="835.5" stroke="#a86028" stroke-width="1.00" opacity="0.22"/>
<line x1="593.5" y1="1181.5" x2="1168.0" y2="848.5" stroke="#a86028" stroke-width="1.00" opacity="0.22"/>
<line x1="593.5" y1="1194.5" x2="1168.0" y2="861.5" stroke="#a86028" stroke-width="1.00" opacity="0.22"/>
<line x1="593.5" y1="1207.5" x2="1168.0" y2="874.5" stroke="#a86028" stroke-width="1.00" opacity="0.22"/>
<line x1="593.5" y1="1220.5" x2="1168.0" y2="887.5" stroke="#a86028" stroke-width="1.00" opacity="0.22"/>
<line x1="593.5" y1="1233.5" x2="1168.0" y2="900.5" stroke="#a86028" stroke-width="1.00" opacity="0.22"/>
</g>
<polygon points="594.0,1268.4 1179.7,933.0 1179.7,903.0 594.0,1238.4" fill="#d79a55" />
<polygon points="594.0,1268.4 1179.7,933.0 1179.7,913.0 594.0,1248.4" fill="#e6b36e" />
<polygon points="594.0,1268.4 1179.7,933.0 1179.7,923.0 594.0,1258.4" fill="#f3d192" />
<line x1="594.0" y1="1258.4" x2="1179.7" y2="923.0" stroke="#8a5a2a" stroke-width="1.20" opacity="0.7"/>
<line x1="594.0" y1="1248.4" x2="1179.7" y2="913.0" stroke="#8a5a2a" stroke-width="1.20" opacity="0.7"/>
<line x1="594.0" y1="1238.4" x2="1179.7" y2="903.0" stroke="#8a5a2a" stroke-width="1.20" opacity="0.7"/>
<polygon points="1167.0,352.0 1180.0,344.5 1179.7,933.0 1167.0,940.3" fill="#e9c39c" />
<line x1="1167.0" y1="352.0" x2="1167.0" y2="940.3" stroke="#8f6238" stroke-width="1.50" />
<line x1="1174.0" y1="348.0" x2="1174.0" y2="936.3" stroke="#b98a5c" stroke-width="1.20" />
<line x1="1180.0" y1="344.5" x2="1179.7" y2="933.0" stroke="#8a7a6a" stroke-width="2.00" />
<polygon points="576.0,682.0 594.0,692.2 594.0,780.2 576.0,770.0" fill="#b67636" /><polygon points="594.0,692.2 614.0,680.6 614.0,768.6 594.0,780.2" fill="#5f3820" /><line x1="594.0" y1="692.2" x2="594.0" y2="780.2" stroke="#3c2412" stroke-width="2.00" />
<polygon points="576.0,908.0 594.0,918.2 594.0,1015.2 576.0,1005.0" fill="#b67636" /><polygon points="594.0,918.2 614.0,906.6 614.0,1003.6 594.0,1015.2" fill="#5f3820" /><line x1="594.0" y1="918.2" x2="594.0" y2="1015.2" stroke="#3c2412" stroke-width="2.00" /><polygon points="576.0,908.0 596.0,896.4 614.0,906.6 594.0,918.2" fill="#b78c3c" />
<polygon points="576.0,1143.0 594.0,1153.2 594.0,1247.2 576.0,1237.0" fill="#b67636" /><polygon points="594.0,1153.2 614.0,1141.6 614.0,1235.6 594.0,1247.2" fill="#5f3820" /><line x1="594.0" y1="1153.2" x2="594.0" y2="1247.2" stroke="#3c2412" stroke-width="2.00" /><polygon points="576.0,1143.0 596.0,1131.4 614.0,1141.6 594.0,1153.2" fill="#b78c3c" />
<polygon points="806.0,512.9 824.0,502.9 824.0,588.9 806.0,578.9" fill="#dca466" opacity="0.30"/><polygon points="824.0,523.0 842.0,513.0 842.0,599.0 824.0,589.0" fill="#dca466" opacity="0.50"/><polygon points="846.0,525.5 864.0,535.7 864.0,623.7 846.0,613.5" fill="#b67636" /><polygon points="864.0,535.7 884.0,524.1 884.0,612.1 864.0,623.7" fill="#5f3820" /><line x1="864.0" y1="535.7" x2="864.0" y2="623.7" stroke="#3c2412" stroke-width="2.00" />
<polygon points="806.0,738.9 824.0,728.9 824.0,823.9 806.0,813.9" fill="#dca466" opacity="0.30"/><polygon points="824.0,749.0 842.0,739.0 842.0,834.0 824.0,824.0" fill="#dca466" opacity="0.50"/><polygon points="846.0,751.5 864.0,761.7 864.0,858.7 846.0,848.5" fill="#b67636" /><polygon points="864.0,761.7 884.0,750.1 884.0,847.1 864.0,858.7" fill="#5f3820" /><line x1="864.0" y1="761.7" x2="864.0" y2="858.7" stroke="#3c2412" stroke-width="2.00" /><polygon points="846.0,751.5 866.0,739.9 884.0,750.1 864.0,761.7" fill="#b78c3c" />
<polygon points="806.0,973.9 824.0,963.9 824.0,1055.9 806.0,1045.9" fill="#dca466" opacity="0.30"/><polygon points="824.0,984.0 842.0,974.0 842.0,1066.0 824.0,1056.0" fill="#dca466" opacity="0.50"/><polygon points="846.0,986.5 864.0,996.7 864.0,1090.7 846.0,1080.5" fill="#b67636" /><polygon points="864.0,996.7 884.0,985.1 884.0,1079.1 864.0,1090.7" fill="#5f3820" /><line x1="864.0" y1="996.7" x2="864.0" y2="1090.7" stroke="#3c2412" stroke-width="2.00" /><polygon points="846.0,986.5 866.0,974.9 884.0,985.1 864.0,996.7" fill="#b78c3c" />
<polygon points="1079.0,354.6 1097.0,344.6 1097.0,430.6 1079.0,420.6" fill="#dca466" opacity="0.30"/><polygon points="1097.0,364.8 1115.0,354.8 1115.0,440.8 1097.0,430.8" fill="#dca466" opacity="0.50"/><polygon points="1119.0,367.2 1137.0,377.4 1137.0,465.4 1119.0,455.2" fill="#b67636" /><polygon points="1137.0,377.4 1157.0,365.8 1157.0,453.8 1137.0,465.4" fill="#5f3820" /><line x1="1137.0" y1="377.4" x2="1137.0" y2="465.4" stroke="#3c2412" stroke-width="2.00" />
<polygon points="1079.0,580.6 1097.0,570.6 1097.0,665.6 1079.0,655.6" fill="#dca466" opacity="0.30"/><polygon points="1097.0,590.8 1115.0,580.8 1115.0,675.8 1097.0,665.8" fill="#dca466" opacity="0.50"/><polygon points="1119.0,593.2 1137.0,603.4 1137.0,700.4 1119.0,690.2" fill="#b67636" /><polygon points="1137.0,603.4 1157.0,591.8 1157.0,688.8 1137.0,700.4" fill="#5f3820" /><line x1="1137.0" y1="603.4" x2="1137.0" y2="700.4" stroke="#3c2412" stroke-width="2.00" /><polygon points="1119.0,593.2 1139.0,581.6 1157.0,591.8 1137.0,603.4" fill="#b78c3c" />
<polygon points="1079.0,815.6 1097.0,805.6 1097.0,897.6 1079.0,887.6" fill="#dca466" opacity="0.30"/><polygon points="1097.0,825.8 1115.0,815.8 1115.0,907.8 1097.0,897.8" fill="#dca466" opacity="0.50"/><polygon points="1119.0,828.2 1137.0,838.4 1137.0,932.4 1119.0,922.2" fill="#b67636" /><polygon points="1137.0,838.4 1157.0,826.8 1157.0,920.8 1137.0,932.4" fill="#5f3820" /><line x1="1137.0" y1="838.4" x2="1137.0" y2="932.4" stroke="#3c2412" stroke-width="2.00" /><polygon points="1119.0,828.2 1139.0,816.6 1157.0,826.8 1137.0,838.4" fill="#b78c3c" />
</g>
<g>
<clipPath id="topclip"><polygon points="205.5,463.5 793.3,124.0 1180.0,344.5 593.5,684.5" fill="#000" /></clipPath>
<polygon points="205.5,463.5 793.3,124.0 1180.0,344.5 593.5,684.5" fill="#a9cea8" />
<g clip-path="url(#topclip)">
<polygon points="205.5,463.5 792.0,123.5 819.2,139.0 232.7,479.0" fill="#a3dccb" />
<polygon points="792.0,123.5 1180.0,344.5 1153.6,359.8 765.6,138.8" fill="#a6dacb" />
<polygon points="593.5,684.5 619.9,669.2 247.4,457.0 221.0,472.3" fill="#86bfae" opacity="0.75"/>
<polygon points="860.4,529.8 886.8,514.5 514.3,302.3 487.9,317.6" fill="#86bfae" opacity="0.75"/>
<polygon points="1130.1,373.4 1153.6,359.8 781.1,147.6 757.7,161.2" fill="#86bfae" opacity="0.75"/>
<rect x="495" y="300" width="40" height="54" rx="12" fill="#7fb6a6" opacity="0.8"/>
<rect x="765" y="146" width="44" height="52" rx="12" fill="#7fb6a6" opacity="0.8"/>
<rect x="212" y="452" width="30" height="40" rx="12" fill="#7fb6a6" opacity="0.8"/>
<line x1="221.0" y1="472.3" x2="807.5" y2="132.3" stroke="#488f8e" stroke-width="2.70" />
<line x1="239.6" y1="482.9" x2="826.1" y2="142.9" stroke="#488f8e" stroke-width="2.70" />
<line x1="258.2" y1="493.5" x2="844.8" y2="153.5" stroke="#488f8e" stroke-width="2.70" />
<line x1="276.9" y1="504.2" x2="863.4" y2="164.2" stroke="#488f8e" stroke-width="2.70" />
<line x1="295.5" y1="514.8" x2="882.0" y2="174.8" stroke="#488f8e" stroke-width="2.70" />
<line x1="314.1" y1="525.4" x2="900.6" y2="185.4" stroke="#488f8e" stroke-width="2.70" />
<line x1="332.8" y1="536.0" x2="919.2" y2="196.0" stroke="#488f8e" stroke-width="2.70" />
<line x1="351.4" y1="546.6" x2="937.9" y2="206.6" stroke="#488f8e" stroke-width="2.70" />
<line x1="370.0" y1="557.2" x2="956.5" y2="217.2" stroke="#488f8e" stroke-width="2.70" />
<line x1="388.6" y1="567.8" x2="975.1" y2="227.8" stroke="#488f8e" stroke-width="2.70" />
<line x1="407.2" y1="578.4" x2="993.8" y2="238.4" stroke="#488f8e" stroke-width="2.70" />
<line x1="425.9" y1="589.0" x2="1012.4" y2="249.0" stroke="#488f8e" stroke-width="2.70" />
<line x1="444.5" y1="599.6" x2="1031.0" y2="259.6" stroke="#488f8e" stroke-width="2.70" />
<line x1="463.1" y1="610.2" x2="1049.6" y2="270.2" stroke="#488f8e" stroke-width="2.70" />
<line x1="481.8" y1="620.8" x2="1068.2" y2="280.8" stroke="#488f8e" stroke-width="2.70" />
<line x1="500.4" y1="631.5" x2="1086.9" y2="291.5" stroke="#488f8e" stroke-width="2.70" />
<line x1="519.0" y1="642.1" x2="1105.5" y2="302.1" stroke="#488f8e" stroke-width="2.70" />
<line x1="537.6" y1="652.7" x2="1124.1" y2="312.7" stroke="#488f8e" stroke-width="2.70" />
<line x1="556.2" y1="663.3" x2="1142.8" y2="323.3" stroke="#488f8e" stroke-width="2.70" />
<line x1="574.9" y1="673.9" x2="1161.4" y2="333.9" stroke="#488f8e" stroke-width="2.70" />
<line x1="593.5" y1="684.5" x2="1180.0" y2="344.5" stroke="#488f8e" stroke-width="2.70" />
<line x1="781.1" y1="147.6" x2="807.5" y2="132.3" stroke="#5aa3a0" stroke-width="1.50" />
<line x1="799.7" y1="158.2" x2="826.1" y2="142.9" stroke="#5aa3a0" stroke-width="1.50" />
<line x1="818.4" y1="168.8" x2="844.8" y2="153.5" stroke="#5aa3a0" stroke-width="1.50" />
<line x1="837.0" y1="179.5" x2="863.4" y2="164.2" stroke="#5aa3a0" stroke-width="1.50" />
<line x1="855.6" y1="190.1" x2="882.0" y2="174.8" stroke="#5aa3a0" stroke-width="1.50" />
<line x1="874.2" y1="200.7" x2="900.6" y2="185.4" stroke="#5aa3a0" stroke-width="1.50" />
<line x1="892.9" y1="211.3" x2="919.2" y2="196.0" stroke="#5aa3a0" stroke-width="1.50" />
<line x1="911.5" y1="221.9" x2="937.9" y2="206.6" stroke="#5aa3a0" stroke-width="1.50" />
<line x1="930.1" y1="232.5" x2="956.5" y2="217.2" stroke="#5aa3a0" stroke-width="1.50" />
<line x1="948.7" y1="243.1" x2="975.1" y2="227.8" stroke="#5aa3a0" stroke-width="1.50" />
<line x1="967.4" y1="253.7" x2="993.8" y2="238.4" stroke="#5aa3a0" stroke-width="1.50" />
<line x1="986.0" y1="264.3" x2="1012.4" y2="249.0" stroke="#5aa3a0" stroke-width="1.50" />
<line x1="1004.6" y1="274.9" x2="1031.0" y2="259.6" stroke="#5aa3a0" stroke-width="1.50" />
<line x1="1023.2" y1="285.5" x2="1049.6" y2="270.2" stroke="#5aa3a0" stroke-width="1.50" />
<line x1="1041.9" y1="296.1" x2="1068.2" y2="280.8" stroke="#5aa3a0" stroke-width="1.50" />
<line x1="1060.5" y1="306.8" x2="1086.9" y2="291.5" stroke="#5aa3a0" stroke-width="1.50" />
<line x1="1079.1" y1="317.4" x2="1105.5" y2="302.1" stroke="#5aa3a0" stroke-width="1.50" />
<line x1="1097.7" y1="328.0" x2="1124.1" y2="312.7" stroke="#5aa3a0" stroke-width="1.50" />
<line x1="1116.4" y1="338.6" x2="1142.8" y2="323.3" stroke="#5aa3a0" stroke-width="1.50" />
<line x1="1135.0" y1="349.2" x2="1161.4" y2="333.9" stroke="#5aa3a0" stroke-width="1.50" />
<line x1="1153.6" y1="359.8" x2="1180.0" y2="344.5" stroke="#5aa3a0" stroke-width="1.50" />
<line x1="1153.6" y1="359.8" x2="765.6" y2="138.8" stroke="#5aa3a0" stroke-width="1.50" />
<path d="M 585 390 L 650 372 L 690 392 L 790 398 L 740 430 L 690 438 L 660 420 L 600 408 Z M 640 395 L 735 412" fill="none" stroke="#3f8f8f" stroke-width="3" opacity="0.6"/>
</g>
</g>
<rect x="2670" y="150" width="122" height="312" fill="#f0f0f0"/>
<g>
<polygon points="1768.8,428.6 2238.6,279.4 2236.1,702.9 1839.8,883.2" fill="#ffffff" />
<polygon points="2238.6,279.4 2632.8,478.2 2565.1,945.7 2236.1,702.9" fill="#ffffff" />
<polygon points="1839.8,883.2 2236.1,702.9 2565.1,945.7 2137.0,1201.7" fill="#ffffff" />
<g stroke="#dedede" stroke-width="2.3" fill="none" stroke-linecap="butt">
<line x1="1822.5" y1="405.3" x2="1884.9" y2="862.6" />
<line x1="1884.9" y1="862.6" x2="2191.0" y2="1176.2" stroke-width="1.8"/>
<line x1="1924.5" y1="373.0" x2="1969.8" y2="824.0" />
<line x1="1969.8" y1="824.0" x2="2284.1" y2="1120.5" stroke-width="1.8"/>
<line x1="2020.7" y1="342.5" x2="2050.6" y2="787.3" />
<line x1="2050.6" y1="787.3" x2="2371.7" y2="1068.0" stroke-width="1.8"/>
<line x1="2111.7" y1="313.7" x2="2127.6" y2="752.2" />
<line x1="2127.6" y1="752.2" x2="2454.5" y2="1018.4" stroke-width="1.8"/>
<line x1="2197.7" y1="286.4" x2="2201.0" y2="718.9" />
<line x1="2201.0" y1="718.9" x2="2532.7" y2="971.6" stroke-width="1.8"/>
<line x1="1771.3" y1="483.1" x2="2238.3" y2="327.5" />
<line x1="2238.3" y1="327.5" x2="2630.2" y2="535.5" />
<line x1="1787.0" y1="583.5" x2="2237.8" y2="419.9" />
<line x1="2237.8" y1="419.9" x2="2615.1" y2="639.4" />
<line x1="1801.7" y1="677.1" x2="2237.3" y2="506.7" />
<line x1="2237.3" y1="506.7" x2="2601.1" y2="735.8" />
<line x1="1815.4" y1="764.5" x2="2236.8" y2="588.5" />
<line x1="2236.8" y1="588.5" x2="2588.0" y2="825.5" />
<line x1="1828.2" y1="846.4" x2="2236.4" y2="665.6" />
<line x1="2236.4" y1="665.6" x2="2575.8" y2="909.2" />
<line x1="2530.7" y1="420.4" x2="2481.3" y2="883.8" />
<line x1="2481.3" y1="883.8" x2="2054.7" y2="1122.0" stroke-width="1.8"/>
<line x1="2437.8" y1="373.6" x2="2404.4" y2="827.1" />
<line x1="2404.4" y1="827.1" x2="1984.8" y2="1047.0" stroke-width="1.8"/>
<line x1="2352.7" y1="330.8" x2="2333.1" y2="774.5" />
<line x1="2333.1" y1="774.5" x2="1920.6" y2="978.2" stroke-width="1.8"/>
<line x1="2274.5" y1="291.5" x2="2266.8" y2="725.5" />
<line x1="2266.8" y1="725.5" x2="1861.5" y2="914.8" stroke-width="1.8"/>
<line x1="1768.8" y1="428.6" x2="2238.6" y2="279.4" />
<line x1="2238.6" y1="279.4" x2="2632.8" y2="478.2" />
<line x1="1768.8" y1="428.6" x2="1839.8" y2="883.2" />
<line x1="2238.6" y1="279.4" x2="2236.1" y2="702.9" />
<line x1="2632.8" y1="478.2" x2="2565.1" y2="945.7" />
<line x1="1839.8" y1="883.2" x2="2236.1" y2="702.9" />
<line x1="2236.1" y1="702.9" x2="2565.1" y2="945.7" />
<line x1="1839.8" y1="883.2" x2="2137.0" y2="1201.7" />
<line x1="2137.0" y1="1201.7" x2="2565.1" y2="945.7" />
</g>
<g stroke="#dedede" stroke-width="1.6" fill="none">
<line x1="1768.8" y1="428.6" x2="2117.4" y2="704.1" />
<line x1="2632.8" y1="478.2" x2="2117.4" y2="704.1" />
<line x1="2137.0" y1="1201.7" x2="2117.4" y2="704.1" />
</g>
<circle cx="2233.0" cy="360.1" r="11.4" fill="rgb(218,110,115)"/>
<circle cx="2247.7" cy="368.2" r="11.4" fill="rgb(208,160,161)"/>
<circle cx="2262.7" cy="376.5" r="11.4" fill="rgb(110,110,227)"/>
<circle cx="2277.9" cy="384.8" r="11.4" fill="rgb(83,83,235)"/>
<circle cx="2293.3" cy="393.3" r="11.4" fill="rgb(206,170,170)"/>
<circle cx="2309.0" cy="402.0" r="11.4" fill="rgb(200,200,200)"/>
<circle cx="2325.0" cy="410.8" r="11.4" fill="rgb(195,195,201)"/>
<circle cx="2341.3" cy="419.7" r="11.4" fill="rgb(200,200,200)"/>
<circle cx="2357.8" cy="428.8" r="11.4" fill="rgb(227,70,81)"/>
<circle cx="2374.7" cy="438.1" r="11.4" fill="rgb(137,137,219)"/>
<circle cx="2391.8" cy="447.5" r="11.4" fill="rgb(164,164,211)"/>
<circle cx="2409.2" cy="457.1" r="11.4" fill="rgb(119,119,224)"/>
<circle cx="2427.0" cy="466.9" r="11.4" fill="rgb(173,173,208)"/>
<circle cx="2445.0" cy="476.8" r="11.4" fill="rgb(164,164,211)"/>
<circle cx="2463.4" cy="486.9" r="11.4" fill="rgb(231,50,65)"/>
<circle cx="2482.1" cy="497.2" r="11.4" fill="rgb(208,160,161)"/>
<circle cx="2501.2" cy="507.7" r="11.4" fill="rgb(239,10,35)"/>
<circle cx="2520.6" cy="518.4" r="11.4" fill="rgb(202,190,190)"/>
<circle cx="2540.4" cy="529.3" r="11.4" fill="rgb(155,155,213)"/>
<circle cx="2560.6" cy="540.4" r="11.4" fill="rgb(221,100,107)"/>
<circle cx="2232.2" cy="542.8" r="11.4" fill="rgb(182,182,205)"/>
<circle cx="2246.0" cy="551.8" r="11.4" fill="rgb(206,170,170)"/>
<circle cx="2260.0" cy="560.9" r="11.4" fill="rgb(212,140,142)"/>
<circle cx="2274.3" cy="570.2" r="11.4" fill="rgb(212,140,142)"/>
<circle cx="2288.7" cy="579.6" r="11.4" fill="rgb(200,200,200)"/>
<circle cx="2303.4" cy="589.2" r="11.4" fill="rgb(231,50,65)"/>
<circle cx="2318.3" cy="598.9" r="11.4" fill="rgb(221,100,107)"/>
<circle cx="2333.4" cy="608.8" r="11.4" fill="rgb(155,155,213)"/>
<circle cx="2348.8" cy="618.8" r="11.4" fill="rgb(182,182,205)"/>
<circle cx="2364.5" cy="629.0" r="11.4" fill="rgb(146,146,216)"/>
<circle cx="2380.4" cy="639.3" r="11.4" fill="rgb(204,179,180)"/>
<circle cx="2396.5" cy="649.9" r="11.4" fill="rgb(218,110,115)"/>
<circle cx="2413.0" cy="660.6" r="11.4" fill="rgb(155,155,213)"/>
<circle cx="2429.7" cy="671.4" r="11.4" fill="rgb(212,140,142)"/>
<circle cx="2446.7" cy="682.5" r="11.4" fill="rgb(210,150,151)"/>
<circle cx="2463.9" cy="693.8" r="11.4" fill="rgb(150,150,215)"/>
<circle cx="2481.5" cy="705.2" r="11.4" fill="rgb(231,50,65)"/>
<circle cx="2499.4" cy="716.9" r="11.4" fill="rgb(228,64,77)"/>
<circle cx="2517.6" cy="728.7" r="11.4" fill="rgb(223,89,98)"/>
<circle cx="2536.1" cy="740.8" r="11.4" fill="rgb(191,191,202)"/>
<circle cx="2231.6" cy="704.3" r="11.4" fill="rgb(225,79,90)"/>
<circle cx="2244.5" cy="713.9" r="11.4" fill="rgb(146,146,216)"/>
<circle cx="2257.7" cy="723.7" r="11.4" fill="rgb(200,200,200)"/>
<circle cx="2271.1" cy="733.6" r="11.4" fill="rgb(210,150,151)"/>
<circle cx="2284.6" cy="743.6" r="11.4" fill="rgb(218,110,115)"/>
<circle cx="2298.4" cy="753.8" r="11.4" fill="rgb(229,60,73)"/>
<circle cx="2312.4" cy="764.2" r="11.4" fill="rgb(214,129,133)"/>
<circle cx="2326.6" cy="774.7" r="11.4" fill="rgb(137,137,219)"/>
<circle cx="2341.0" cy="785.3" r="11.4" fill="rgb(110,110,227)"/>
<circle cx="2355.6" cy="796.2" r="11.4" fill="rgb(137,137,219)"/>
<circle cx="2370.4" cy="807.2" r="11.4" fill="rgb(101,101,230)"/>
<circle cx="2385.5" cy="818.3" r="11.4" fill="rgb(206,170,170)"/>
<circle cx="2400.8" cy="829.6" r="11.4" fill="rgb(38,38,249)"/>
<circle cx="2416.3" cy="841.2" r="11.4" fill="rgb(119,119,224)"/>
<circle cx="2432.1" cy="852.9" r="11.4" fill="rgb(237,20,42)"/>
<circle cx="2448.1" cy="864.7" r="11.4" fill="rgb(227,70,81)"/>
<circle cx="2464.4" cy="876.8" r="11.4" fill="rgb(237,20,42)"/>
<circle cx="2481.0" cy="889.1" r="11.4" fill="rgb(221,100,107)"/>
<circle cx="2497.8" cy="901.6" r="11.4" fill="rgb(239,10,35)"/>
<circle cx="2514.9" cy="914.2" r="11.4" fill="rgb(204,179,180)"/>
<circle cx="2057.8" cy="420.2" r="11.4" fill="rgb(182,182,205)"/>
<circle cx="2071.8" cy="429.3" r="11.4" fill="rgb(146,146,216)"/>
<circle cx="2086.1" cy="438.5" r="11.4" fill="rgb(110,110,227)"/>
<circle cx="2100.7" cy="447.9" r="11.4" fill="rgb(237,20,42)"/>
<circle cx="2115.5" cy="457.5" r="11.4" fill="rgb(182,182,205)"/>
<circle cx="2130.6" cy="467.2" r="11.4" fill="rgb(164,164,211)"/>
<circle cx="2145.9" cy="477.2" r="11.4" fill="rgb(101,101,230)"/>
<circle cx="2161.5" cy="487.2" r="11.4" fill="rgb(204,179,180)"/>
<circle cx="2177.5" cy="497.5" r="11.4" fill="rgb(155,155,213)"/>
<circle cx="2193.7" cy="508.0" r="11.4" fill="rgb(237,20,42)"/>
<circle cx="2210.2" cy="518.7" r="11.4" fill="rgb(164,164,211)"/>
<circle cx="2227.0" cy="529.5" r="11.4" fill="rgb(216,120,124)"/>
<circle cx="2244.1" cy="540.6" r="11.4" fill="rgb(177,177,206)"/>
<circle cx="2261.6" cy="551.9" r="11.4" fill="rgb(164,164,211)"/>
<circle cx="2279.4" cy="563.4" r="11.4" fill="rgb(110,110,227)"/>
<circle cx="2297.5" cy="575.1" r="11.4" fill="rgb(195,195,201)"/>
<circle cx="2316.0" cy="587.0" r="11.4" fill="rgb(164,164,211)"/>
<circle cx="2334.9" cy="599.2" r="11.4" fill="rgb(132,132,220)"/>
<circle cx="2354.1" cy="611.7" r="11.4" fill="rgb(235,29,50)"/>
<circle cx="2373.8" cy="624.3" r="11.4" fill="rgb(242,0,28)"/>
<circle cx="2068.4" cy="608.7" r="23.3" fill="rgb(128,128,222)"/>
<circle cx="2081.6" cy="618.7" r="11.4" fill="rgb(237,20,42)"/>
<circle cx="2095.0" cy="628.9" r="11.4" fill="rgb(210,150,151)"/>
<circle cx="2108.7" cy="639.2" r="11.4" fill="rgb(216,120,124)"/>
<circle cx="2122.6" cy="649.7" r="11.4" fill="rgb(229,60,73)"/>
<circle cx="2136.7" cy="660.4" r="11.4" fill="rgb(204,179,180)"/>
<circle cx="2151.0" cy="671.3" r="11.4" fill="rgb(200,200,200)"/>
<circle cx="2165.6" cy="682.3" r="11.4" fill="rgb(225,79,90)"/>
<circle cx="2180.5" cy="693.5" r="11.4" fill="rgb(164,164,211)"/>
<circle cx="2195.6" cy="704.9" r="11.4" fill="rgb(155,155,213)"/>
<circle cx="2210.9" cy="716.5" r="11.4" fill="rgb(110,110,227)"/>
<circle cx="2226.5" cy="728.4" r="11.4" fill="rgb(137,137,219)"/>
<circle cx="2242.4" cy="740.4" r="11.4" fill="rgb(110,110,227)"/>
<circle cx="2258.6" cy="752.6" r="11.4" fill="rgb(212,140,142)"/>
<circle cx="2275.1" cy="765.1" r="11.4" fill="rgb(128,128,222)"/>
<circle cx="2291.9" cy="777.8" r="11.4" fill="rgb(83,83,235)"/>
<circle cx="2308.9" cy="790.7" r="11.4" fill="rgb(210,150,151)"/>
<circle cx="2326.3" cy="803.8" r="11.4" fill="rgb(212,140,142)"/>
<circle cx="2344.0" cy="817.2" r="11.4" fill="rgb(146,146,216)"/>
<circle cx="2362.1" cy="830.9" r="11.4" fill="rgb(182,182,205)"/>
<circle cx="2077.7" cy="774.3" r="11.4" fill="rgb(155,155,213)"/>
<circle cx="2090.1" cy="784.9" r="11.4" fill="rgb(231,50,65)"/>
<circle cx="2102.8" cy="795.7" r="11.4" fill="rgb(212,140,142)"/>
<circle cx="2115.7" cy="806.7" r="11.4" fill="rgb(231,50,65)"/>
<circle cx="2128.7" cy="817.8" r="11.4" fill="rgb(216,120,124)"/>
<circle cx="2142.0" cy="829.1" r="11.4" fill="rgb(164,164,211)"/>
<circle cx="2155.5" cy="840.6" r="11.4" fill="rgb(221,100,107)"/>
<circle cx="2169.2" cy="852.2" r="11.4" fill="rgb(56,56,244)"/>
<circle cx="2183.1" cy="864.1" r="11.4" fill="rgb(164,164,211)"/>
<circle cx="2197.2" cy="876.1" r="11.4" fill="rgb(206,170,170)"/>
<circle cx="2211.6" cy="888.3" r="11.4" fill="rgb(225,79,90)"/>
<circle cx="2226.1" cy="900.8" r="11.4" fill="rgb(119,119,224)"/>
<circle cx="2241.0" cy="913.4" r="11.4" fill="rgb(101,101,230)"/>
<circle cx="2256.1" cy="926.3" r="11.4" fill="rgb(128,128,222)"/>
<circle cx="2271.4" cy="939.3" r="11.4" fill="rgb(231,50,65)"/>
<circle cx="2287.0" cy="952.6" r="11.4" fill="rgb(182,182,205)"/>
<circle cx="2302.8" cy="966.1" r="11.4" fill="rgb(229,60,73)"/>
<circle cx="2319.0" cy="979.8" r="11.4" fill="rgb(182,182,205)"/>
<circle cx="2335.4" cy="993.8" r="11.4" fill="rgb(128,128,222)"/>
<circle cx="2352.0" cy="1008.0" r="11.4" fill="rgb(227,70,81)"/>
<circle cx="1861.4" cy="487.6" r="11.4" fill="rgb(223,89,98)"/>
<circle cx="1874.6" cy="497.8" r="11.4" fill="rgb(200,200,200)"/>
<circle cx="1887.9" cy="508.3" r="11.4" fill="rgb(218,110,115)"/>
<circle cx="1901.5" cy="518.9" r="11.4" fill="rgb(110,110,227)"/>
<circle cx="1915.4" cy="529.7" r="11.4" fill="rgb(200,200,200)"/>
<circle cx="1929.5" cy="540.8" r="11.4" fill="rgb(119,119,224)"/>
<circle cx="1943.9" cy="552.0" r="11.4" fill="rgb(119,119,224)"/>
<circle cx="1958.6" cy="563.5" r="11.4" fill="rgb(173,173,208)"/>
<circle cx="1973.6" cy="575.2" r="11.4" fill="rgb(223,89,98)"/>
<circle cx="1988.9" cy="587.1" r="11.4" fill="rgb(128,128,222)"/>
<circle cx="2004.4" cy="599.2" r="11.4" fill="rgb(216,120,124)"/>
<circle cx="2020.3" cy="611.6" r="11.4" fill="rgb(214,129,133)"/>
<circle cx="2036.5" cy="624.3" r="11.4" fill="rgb(218,110,115)"/>
<circle cx="2053.0" cy="637.2" r="11.4" fill="rgb(182,182,205)"/>
<circle cx="2069.9" cy="650.4" r="11.4" fill="rgb(101,101,230)"/>
<circle cx="2087.1" cy="663.8" r="11.4" fill="rgb(204,179,180)"/>
<circle cx="2104.7" cy="677.5" r="11.4" fill="rgb(164,164,211)"/>
<circle cx="2122.7" cy="691.6" r="11.4" fill="rgb(200,200,200)"/>
<circle cx="2141.0" cy="705.9" r="11.4" fill="rgb(83,83,235)"/>
<circle cx="2159.8" cy="720.5" r="11.4" fill="rgb(146,146,216)"/>
<circle cx="1886.1" cy="682.1" r="11.4" fill="rgb(235,29,50)"/>
<circle cx="1898.5" cy="693.3" r="11.4" fill="rgb(173,173,208)"/>
<circle cx="1911.1" cy="704.6" r="11.4" fill="rgb(227,70,81)"/>
<circle cx="1924.0" cy="716.2" r="11.4" fill="rgb(216,120,124)"/>
<circle cx="1937.1" cy="728.0" r="11.4" fill="rgb(201,195,195)"/>
<circle cx="1950.4" cy="740.0" r="11.4" fill="rgb(239,10,35)"/>
<circle cx="1963.9" cy="752.2" r="11.4" fill="rgb(218,110,115)"/>
<circle cx="1977.7" cy="764.6" r="11.4" fill="rgb(208,160,161)"/>
<circle cx="1991.8" cy="777.2" r="11.4" fill="rgb(229,60,73)"/>
<circle cx="2006.1" cy="790.1" r="11.4" fill="rgb(74,74,238)"/>
<circle cx="2020.6" cy="803.2" r="11.4" fill="rgb(229,60,73)"/>
<circle cx="2035.5" cy="816.6" r="11.4" fill="rgb(83,83,235)"/>
<circle cx="2050.6" cy="830.2" r="11.4" fill="rgb(164,164,211)"/>
<circle cx="2065.9" cy="844.0" r="11.4" fill="rgb(56,56,244)"/>
<circle cx="2081.6" cy="858.2" r="11.4" fill="rgb(206,170,170)"/>
<circle cx="2097.6" cy="872.6" r="11.4" fill="rgb(191,191,202)"/>
<circle cx="2113.9" cy="887.2" r="11.4" fill="rgb(182,182,205)"/>
<circle cx="2130.5" cy="902.2" r="11.4" fill="rgb(65,65,241)"/>
<circle cx="2147.5" cy="917.5" r="11.4" fill="rgb(212,140,142)"/>
<circle cx="2164.8" cy="933.0" r="11.4" fill="rgb(206,170,170)"/>
<circle cx="1907.6" cy="851.6" r="11.4" fill="rgb(225,79,90)"/>
<circle cx="1919.3" cy="863.4" r="11.4" fill="rgb(233,39,57)"/>
<circle cx="1931.3" cy="875.4" r="11.4" fill="rgb(237,20,42)"/>
<circle cx="1943.5" cy="887.6" r="11.4" fill="rgb(110,110,227)"/>
<circle cx="1955.9" cy="900.0" r="11.4" fill="rgb(237,20,42)"/>
<circle cx="1968.5" cy="912.6" r="11.4" fill="rgb(227,70,81)"/>
<circle cx="1981.2" cy="925.4" r="11.4" fill="rgb(227,70,81)"/>
<circle cx="1994.2" cy="938.4" r="11.4" fill="rgb(191,191,202)"/>
<circle cx="2007.5" cy="951.7" r="11.4" fill="rgb(216,120,124)"/>
<circle cx="2020.9" cy="965.1" r="11.4" fill="rgb(128,128,222)"/>
<circle cx="2034.6" cy="978.8" r="11.4" fill="rgb(182,182,205)"/>
<circle cx="2048.5" cy="992.7" r="11.4" fill="rgb(186,186,204)"/>
<circle cx="2062.6" cy="1006.9" r="11.4" fill="rgb(182,182,205)"/>
<circle cx="2077.0" cy="1021.3" r="11.4" fill="rgb(74,74,238)"/>
<circle cx="2091.7" cy="1036.0" r="11.4" fill="rgb(119,119,224)"/>
<circle cx="2106.6" cy="1050.9" r="11.4" fill="rgb(216,120,124)"/>
<circle cx="2121.8" cy="1066.1" r="11.4" fill="rgb(128,128,222)"/>
<circle cx="2137.2" cy="1081.6" r="11.4" fill="rgb(128,128,222)"/>
<circle cx="2153.0" cy="1097.4" r="11.4" fill="rgb(128,128,222)"/>
<circle cx="2169.0" cy="1113.4" r="11.4" fill="rgb(233,39,57)"/>
<polygon points="1839.8,883.2 2236.1,702.9 2565.1,945.7 2137.0,1201.7" fill="rgb(35,125,235)" fill-opacity="0.25" stroke="rgb(90,150,230)" stroke-opacity="0.28" stroke-width="2"/>
</g>
<text x="1822.0" y="396.8" font-size="24.5" fill="#000" text-anchor="middle" >1</text>
<text x="1925.0" y="364.8" font-size="24.5" fill="#000" text-anchor="middle" >1.5</text>
<text x="2020.0" y="334.8" font-size="24.5" fill="#000" text-anchor="middle" >2</text>
<text x="2111.0" y="306.8" font-size="24.5" fill="#000" text-anchor="middle" >2.5</text>
<text x="2197.0" y="279.8" font-size="24.5" fill="#000" text-anchor="middle" >3</text>
<text x="2274.5" y="285.1" font-size="24.5" fill="#000" text-anchor="middle" >20</text>
<text x="2353.7" y="323.5" font-size="24.5" fill="#000" text-anchor="middle" >15</text>
<text x="2438.0" y="364.3" font-size="24.5" fill="#000" text-anchor="middle" >10</text>
<text x="2530.7" y="409.8" font-size="24.5" fill="#000" text-anchor="middle" >5</text>
<text x="2632.0" y="459.8" font-size="24.5" fill="#000" text-anchor="middle" >0</text>
<text x="1767.5" y="492.8" font-size="24.5" fill="#000" text-anchor="end" >1</text>
<text x="1782.7" y="592.3" font-size="24.5" fill="#000" text-anchor="end" >1.5</text>
<text x="1799.7" y="687.8" font-size="24.5" fill="#000" text-anchor="end" >2</text>
<text x="1813.0" y="776.3" font-size="24.5" fill="#000" text-anchor="end" >2.5</text>
<text x="1825.8" y="860.2" font-size="24.5" fill="#000" text-anchor="end" >3</text>
<text x="2632.0" y="543.6" font-size="24.5" fill="#000" text-anchor="start" >1</text>
<text x="2618.0" y="646.8" font-size="24.5" fill="#000" text-anchor="start" >1.5</text>
<text x="2601.8" y="742.8" font-size="24.5" fill="#000" text-anchor="start" >2</text>
<text x="2588.5" y="833.4" font-size="24.5" fill="#000" text-anchor="start" >2.5</text>
<text x="2576.0" y="917.3" font-size="24.5" fill="#000" text-anchor="start" >3</text>
<text x="1859.5" y="925.1" font-size="24.5" fill="#000" text-anchor="end" >20</text>
<text x="1918.0" y="987.8" font-size="24.5" fill="#000" text-anchor="end" >15</text>
<text x="1982.0" y="1056.8" font-size="24.5" fill="#000" text-anchor="end" >10</text>
<text x="2052.8" y="1131.2" font-size="24.5" fill="#000" text-anchor="end" >5</text>
<text x="2128.5" y="1215.1" font-size="24.5" fill="#000" text-anchor="end" >0</text>
<text x="2193.7" y="1185.8" font-size="24.5" fill="#000" text-anchor="start" >1</text>
<text x="2287.0" y="1130.1" font-size="24.5" fill="#000" text-anchor="start" >1.5</text>
<text x="2371.3" y="1075.8" font-size="24.5" fill="#000" text-anchor="start" >2</text>
<text x="2454.0" y="1026.8" font-size="24.5" fill="#000" text-anchor="start" >2.5</text>
<text x="2533.0" y="977.8" font-size="24.5" fill="#000" text-anchor="start" >3</text>
<text x="0.0" y="13.7" font-size="38.0" fill="#000" text-anchor="middle" transform="translate(2012.0,276.3) rotate(-17.5)">X</text>
<text x="0.0" y="13.7" font-size="38.0" fill="#000" text-anchor="middle" transform="translate(2429.9,298.3) rotate(26.0)">Z</text>
<text x="0.0" y="13.7" font-size="38.0" fill="#000" text-anchor="middle" transform="translate(1723.3,702.3) rotate(-98.5)">Y</text>
<text x="0.0" y="13.7" font-size="38.0" fill="#000" text-anchor="middle" transform="translate(2660.0,764.0) rotate(-82.0)">Y</text>
<text x="0.0" y="13.7" font-size="38.0" fill="#000" text-anchor="middle" transform="translate(1906.0,1068.9) rotate(47.0)">Z</text>
<text x="0.0" y="13.7" font-size="38.0" fill="#000" text-anchor="middle" transform="translate(2419.0,1114.6) rotate(-31.0)">X</text>
<defs><linearGradient id="cb" x1="0" y1="0" x2="0" y2="1"><stop offset="0" stop-color="#e53222"/><stop offset="0.25" stop-color="#d2625a"/><stop offset="0.43" stop-color="#c6aaa6"/><stop offset="0.5" stop-color="#c6c6c4"/><stop offset="0.57" stop-color="#b6b6cc"/><stop offset="0.75" stop-color="#8a8cd8"/><stop offset="1" stop-color="#3038ee"/></linearGradient></defs>
<rect x="2686.3" y="239" width="39.7" height="200" fill="url(#cb)"/>
<line x1="2726" y1="239.0" x2="2733" y2="239.0" stroke="#e0352b" stroke-width="2"/>
<text x="2746.5" y="249.5" font-size="32.0" fill="#000" text-anchor="start" >4</text>
<line x1="2726" y1="289.0" x2="2733" y2="289.0" stroke="#d96a62" stroke-width="2"/>
<text x="2746.5" y="299.5" font-size="32.0" fill="#000" text-anchor="start" >3</text>
<line x1="2726" y1="339.0" x2="2733" y2="339.0" stroke="#c8c6c6" stroke-width="2"/>
<text x="2746.5" y="349.5" font-size="32.0" fill="#000" text-anchor="start" >2</text>
<line x1="2726" y1="389.0" x2="2733" y2="389.0" stroke="#8c8fdc" stroke-width="2"/>
<text x="2746.5" y="399.5" font-size="32.0" fill="#000" text-anchor="start" >1</text>
<line x1="2726" y1="439.0" x2="2733" y2="439.0" stroke="#2f3cf0" stroke-width="2"/>
<text x="2746.5" y="449.5" font-size="32.0" fill="#000" text-anchor="start" >0</text>
<text x="2685.3" y="196.2" font-size="31.0" fill="#000" text-anchor="start" >Total°</text>
<g stroke="#c4342a" stroke-width="3.7" fill="#c4342a" stroke-linecap="round">
<line x1="143.6" y1="424.4" x2="730.1" y2="82.1"/>
<polygon points="143.6,424.4 158.5,422.1 152.9,412.6" stroke="none"/>
<polygon points="730.1,82.1 715.2,84.4 720.8,93.9" stroke="none"/>
<line x1="866.4" y1="81.5" x2="1249.5" y2="303.5"/>
<polygon points="866.4,81.5 875.8,93.3 881.3,83.8" stroke="none"/>
<polygon points="1249.5,303.5 1240.1,291.7 1234.6,301.2" stroke="none"/>
<line x1="1250.5" y1="305.5" x2="1250.5" y2="891.0"/>
<polygon points="1250.5,305.5 1245.0,319.5 1256.0,319.5" stroke="none"/>
<polygon points="1250.5,891.0 1256.0,877.0 1245.0,877.0" stroke="none"/>
<line x1="80.5" y1="386.5" x2="205.3" y2="462.5"/>
<line x1="668" y1="44.9" x2="797.5" y2="119.7"/>
<line x1="796.2" y1="119.7" x2="896.6" y2="61.8"/>
<line x1="1185.2" y1="341.8" x2="1284.8" y2="284.7"/>
<line x1="1186" y1="931" x2="1285" y2="875"/>
</g>
<defs><filter id="bl" x="-5%" y="-20%" width="110%" height="140%"><feGaussianBlur stdDeviation="0.6"/></filter></defs>
<text transform="translate(346.6,234.9) scale(0.929,1)" font-size="48.0" fill="#c4342a" filter="url(#bl)">50.<tspan dx="15">7</tspan></text>
<text transform="translate(1078.1,180.0) scale(0.895,1)" font-size="50.5" fill="#c4342a" filter="url(#bl)">34</text>
<text transform="translate(1267.8,609.2) scale(0.910,1)" font-size="49.8" fill="#c4342a" filter="url(#bl)">43.<tspan dx="14.7">7</tspan></text>
<defs><filter id="sh" x="-20%" y="-20%" width="140%" height="140%"><feDropShadow dx="2.5" dy="4.5" stdDeviation="3" flood-color="#000" flood-opacity="0.38"/></filter></defs>
<g filter="url(#sh)">
<rect x="599.8" y="685.6" width="10" height="59.3" fill="#c986fb"/>
<rect x="599.8" y="805.9" width="10" height="59.3" fill="#c986fb"/>
<rect x="599.8" y="926.2" width="10" height="59.3" fill="#c986fb"/>
<rect x="599.8" y="1046.5" width="10" height="59.3" fill="#c986fb"/>
<rect x="599.8" y="1166.8" width="10" height="59.3" fill="#c986fb"/>
<rect x="599.8" y="1287.1" width="10" height="59.3" fill="#c986fb"/>
<rect x="599.8" y="1407.4" width="10" height="59.3" fill="#c986fb"/>
<rect x="599.8" y="1527.7" width="10" height="59.3" fill="#c986fb"/>
<rect x="872.0" y="526.0" width="10" height="59.3" fill="#c986fb"/>
<rect x="872.0" y="646.3" width="10" height="59.3" fill="#c986fb"/>
<rect x="872.0" y="766.6" width="10" height="59.3" fill="#c986fb"/>
<rect x="872.0" y="886.9" width="10" height="59.3" fill="#c986fb"/>
<rect x="872.0" y="1007.2" width="10" height="59.3" fill="#c986fb"/>
<rect x="872.0" y="1127.5" width="10" height="59.3" fill="#c986fb"/>
<rect x="872.0" y="1247.8" width="10" height="59.3" fill="#c986fb"/>
<rect x="872.0" y="1368.1" width="10" height="59.3" fill="#c986fb"/>
<rect x="1142.0" y="376.0" width="10" height="59.3" fill="#c986fb"/>
<rect x="1142.0" y="496.3" width="10" height="59.3" fill="#c986fb"/>
<rect x="1142.0" y="616.6" width="10" height="59.3" fill="#c986fb"/>
<rect x="1142.0" y="736.9" width="10" height="59.3" fill="#c986fb"/>
<rect x="1142.0" y="857.2" width="10" height="59.3" fill="#c986fb"/>
<rect x="1142.0" y="977.5" width="10" height="59.3" fill="#c986fb"/>
<rect x="1142.0" y="1097.8" width="10" height="59.3" fill="#c986fb"/>
<rect x="1142.0" y="1218.1" width="10" height="59.3" fill="#c986fb"/>
</g>
<g filter="url(#sh)" stroke="#000" stroke-width="9.5" stroke-dasharray="19.5 20.5">
<line x1="1415.2" y1="262.6" x2="596" y2="723.0"/>
<line x1="1415.2" y1="493.5" x2="596" y2="953.5"/>
<line x1="1415.2" y1="739.5" x2="596" y2="1198.3"/>
</g>
<g fill="#000" stroke="#000">
<line x1="174.7" y1="1130.3" x2="499.7" y2="1314.8" stroke-width="11.5"/>
<polygon stroke="none" points="143.4,1112.5 168.6,1149.2 187.8,1115.3"/>
<polygon stroke="none" points="531.0,1332.6 486.6,1329.8 505.8,1295.9"/>
</g>
<text x="0.0" y="0.0" font-size="68.0" fill="#000" text-anchor="start" transform="translate(137.7,1189.4) rotate(29.6)">Orientation</text>
<text x="926.0" y="224.5" font-size="57.0" fill="#000" text-anchor="start" >Z20</text>
<text x="1291.0" y="283.0" font-size="57.0" fill="#000" text-anchor="start" >Z1</text>
<text x="1432.0" y="283.0" font-size="57.0" fill="#000" text-anchor="start" >Y1</text>
<text x="1432.0" y="512.0" font-size="57.0" fill="#000" text-anchor="start" >Y2</text>
<text x="1432.0" y="742.0" font-size="57.0" fill="#000" text-anchor="start" >Y3</text>
<text x="586.5" y="1636.6" font-size="57.0" fill="#000" text-anchor="start" >X1</text>
<text x="843.0" y="1512.5" font-size="57.0" fill="#000" text-anchor="start" >X2</text>
<text x="1111.7" y="1361.0" font-size="57.0" fill="#000" text-anchor="start" >X3</text>
<text x="957.0" y="1120.5" font-size="57.0" fill="#000" text-anchor="start" >50.7</text>
<text x="664.0" y="277.2" font-size="68.0" fill="#000" text-anchor="start" >Press</text>
<text x="664.0" y="360.0" font-size="68.0" fill="#000" text-anchor="start" >up-surface</text>
<text x="1652.7" y="1358.8" font-size="68.2" fill="#000" text-anchor="start" >Magnetic Declination Angle distribution</text>
<text x="2608.0" y="932.0" font-size="68.0" fill="#000" text-anchor="start" >Y=3 layer</text>
<text x="2608.0" y="1015.0" font-size="68.0" fill="#000" text-anchor="start" >variation higher</text>
</svg>
</body></html>
